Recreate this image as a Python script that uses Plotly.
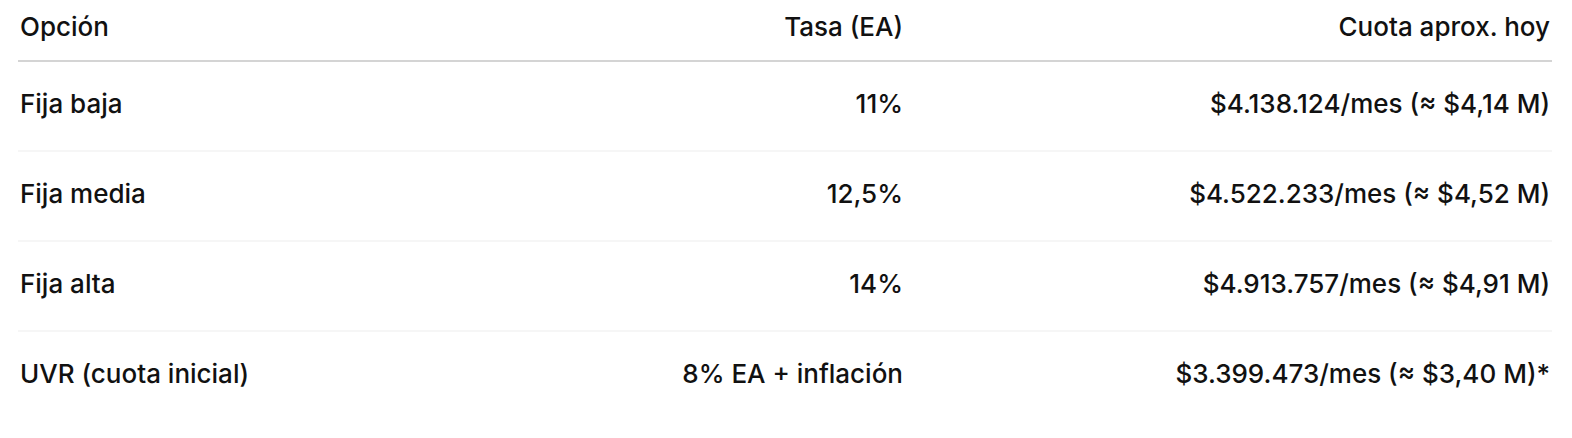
import plotly.graph_objects as go

headers = ["Opción", "Tasa (EA)", "Cuota aprox. hoy"]
opciones = ["Fija baja", "Fija media", "Fija alta", "UVR (cuota inicial)"]
tasas = ["11%", "12,5%", "14%", "8% EA + inflación"]
cuotas = [
    "$4.138.124/mes (≈ $4,14 M)",
    "$4.522.233/mes (≈ $4,52 M)",
    "$4.913.757/mes (≈ $4,91 M)",
    "$3.399.473/mes (≈ $3,40 M)*",
]

W, H = 1572, 438
# page body adds ~8px offset, compensate
off = 8
col_x = [20 - off, 903 - off, 1550 - off]
col_pos = ["middle right", "middle left", "middle left"]
header_y = 29 - off
row_y = [106 - off, 196 - off, 286 - off, 376 - off]
font = dict(family="Inter, Roboto, sans-serif", size=26, color="#111111", weight=500)

fig = go.Figure()
columns = [opciones, tasas, cuotas]
for i, col in enumerate(columns):
    fig.add_trace(go.Scatter(
        x=[col_x[i]] * (len(col) + 1),
        y=[header_y] + row_y,
        text=[headers[i]] + col,
        mode="text",
        textposition=col_pos[i],
        textfont=font,
        hoverinfo="skip",
    ))

# header rule and row separators
fig.add_shape(type="line", x0=18 - off, x1=1552 - off, y0=61 - off, y1=61 - off,
              line=dict(color="#d4d4d4", width=2))
for y in [151, 241, 331]:
    fig.add_shape(type="line", x0=18 - off, x1=1552 - off, y0=y - off, y1=y - off,
                  line=dict(color="#ededed", width=1))

fig.update_layout(
    width=W, height=H,
    margin=dict(l=0, r=0, t=0, b=0),
    paper_bgcolor="white", plot_bgcolor="white",
    showlegend=False,
    xaxis=dict(range=[0, W], visible=False, fixedrange=True),
    yaxis=dict(range=[H, 0], visible=False, fixedrange=True),
)

fig.write_html("out.html")
